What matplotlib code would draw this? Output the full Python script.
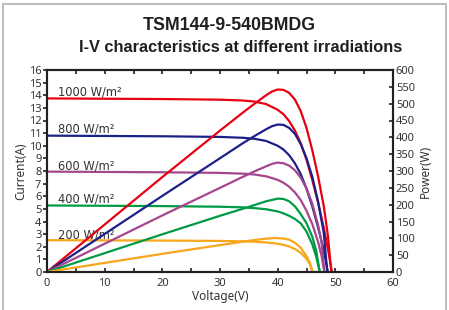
import matplotlib
matplotlib.use("Agg")
import matplotlib.pyplot as plt
from matplotlib.patches import Rectangle
from matplotlib.ticker import MultipleLocator

# ---------------- data ----------------
irradiance_labels = ["1000 W/m²", "800 W/m²", "600 W/m²", "400 W/m²", "200 W/m²"]
colors = ["#e60012", "#1d2088", "#a5478f", "#009a44", "#f8a61b"]

# I-V curves (voltage V, current A)
iv_v_1000 = [0, 20, 30, 34, 36, 38, 40, 41, 42, 43, 44, 45, 46, 47, 48, 48.8, 49.4]
iv_i_1000 = [13.75, 13.70, 13.65, 13.58, 13.50, 13.30, 12.85, 12.50, 11.95, 11.20, 10.20, 8.90, 7.30, 5.50, 3.50, 1.60, 0]
iv_v_800 = [0, 20, 30, 34, 36, 38, 40, 41, 42, 43, 44, 45, 46, 47, 48, 48.7]
iv_i_800 = [10.80, 10.75, 10.70, 10.63, 10.55, 10.38, 10.00, 9.70, 9.25, 8.60, 7.75, 6.60, 5.20, 3.55, 1.70, 0]
iv_v_600 = [0, 20, 30, 34, 36, 38, 40, 41, 42, 43, 44, 45, 46, 47, 47.6, 48.1]
iv_i_600 = [7.95, 7.90, 7.85, 7.79, 7.72, 7.58, 7.30, 7.07, 6.75, 6.30, 5.70, 4.85, 3.80, 2.40, 1.30, 0]
iv_v_400 = [0, 20, 30, 34, 36, 38, 40, 41, 42, 43, 44, 45, 46, 46.7, 47.3]
iv_i_400 = [5.27, 5.22, 5.17, 5.12, 5.06, 4.97, 4.80, 4.65, 4.45, 4.20, 3.85, 3.20, 2.20, 1.20, 0]
iv_v_200 = [0, 20, 30, 34, 36, 38, 40, 41, 42, 43, 44, 45, 45.6, 46.1]
iv_i_200 = [2.52, 2.49, 2.46, 2.43, 2.40, 2.34, 2.24, 2.15, 2.02, 1.82, 1.52, 1.05, 0.60, 0]

# P-V curves (voltage V, power W)
pv_v_1000 = [0, 10, 20, 30, 34, 36, 38, 39, 40, 41, 42, 43, 44, 45, 46, 47, 48, 48.7, 49.3]
pv_p_1000 = [0, 141, 282, 420, 474, 500, 525, 536, 542, 541, 532, 512, 478, 428, 362, 285, 195, 110, 0]
pv_v_800 = [0, 10, 20, 30, 34, 36, 38, 39, 40, 41, 42, 43, 44, 45, 46, 47, 48, 48.6]
pv_p_800 = [0, 113, 226, 338, 383, 404, 424, 433, 438, 437, 428, 410, 380, 338, 283, 210, 115, 0]
pv_v_600 = [0, 10, 20, 30, 34, 36, 38, 39, 40, 41, 42, 43, 44, 45, 46, 47, 47.6, 48.1]
pv_p_600 = [0, 84, 168, 250, 283, 299, 314, 321, 325, 323, 316, 302, 280, 248, 203, 140, 90, 0]
pv_v_400 = [0, 10, 20, 30, 34, 36, 38, 40, 41, 42, 43, 44, 45, 46, 46.7, 47.3]
pv_p_400 = [0, 56, 112, 167, 188, 199, 210, 218, 217, 210, 195, 172, 145, 105, 62, 0]
pv_v_200 = [0, 10, 20, 30, 34, 36, 38, 39.5, 41, 42, 43, 44, 45, 45.6, 46]
pv_p_200 = [0, 27, 54, 80, 90, 95, 99, 101, 99.5, 96, 87, 72, 47, 27, 0]

label_pos_v = [1.9, 1.9, 1.9, 1.9, 1.9]
label_pos_i = [14.25, 11.3, 8.4, 5.8, 2.9]

title1 = "TSM144-9-540BMDG"
title2 = "I-V characteristics at different irradiations"

# ---------------- figure ----------------
fig = plt.figure(figsize=(4.49, 3.10), dpi=100)
ax = fig.add_axes([47/449, 1-272/310, (393-47)/449, (272-70)/310])
ax2 = ax.twinx()

iv_sets = [(iv_v_1000, iv_i_1000), (iv_v_800, iv_i_800), (iv_v_600, iv_i_600),
           (iv_v_400, iv_i_400), (iv_v_200, iv_i_200)]
pv_sets = [(pv_v_1000, pv_p_1000), (pv_v_800, pv_p_800), (pv_v_600, pv_p_600),
           (pv_v_400, pv_p_400), (pv_v_200, pv_p_200)]

lw = 1.6
for (v, i), c in zip(iv_sets, colors):
    ax.plot(v, i, color=c, lw=lw, solid_capstyle="round", solid_joinstyle="round")
for (v, p), c in zip(pv_sets, colors):
    ax2.plot(v, p, color=c, lw=lw, solid_capstyle="round", solid_joinstyle="round")

tick_font = "Noto Sans"
for lab, x, y in zip(irradiance_labels, label_pos_v, label_pos_i):
    ax.text(x, y, lab, fontsize=8.3, color="#333333", family="DejaVu Sans",
            ha="left", va="center", zorder=5)

ax.set_xlim(0, 60)
ax.set_ylim(0, 16)
ax2.set_ylim(0, 600)

ax.xaxis.set_major_locator(MultipleLocator(10))
ax.xaxis.set_minor_locator(MultipleLocator(5))
ax.yaxis.set_major_locator(MultipleLocator(1))
ax2.yaxis.set_major_locator(MultipleLocator(50))

spine_c = "#231f20"
for a in (ax, ax2):
    for s in a.spines.values():
        s.set_linewidth(1.5)
        s.set_color(spine_c)

ax.tick_params(axis="x", which="both", direction="in", length=3, width=1.2,
               top=True, color=spine_c, labelsize=8, pad=4, labelcolor="#333333")
ax.tick_params(axis="y", which="major", direction="out", length=3, width=1.2,
               color=spine_c, labelsize=8, pad=1, labelcolor="#333333")
ax2.tick_params(axis="y", which="major", direction="in", length=3, width=1.2,
                color=spine_c, labelsize=8, pad=2, labelcolor="#333333")
for t in ax.get_xticklabels() + ax.get_yticklabels() + ax2.get_yticklabels():
    t.set_family(tick_font)

ax.set_xlabel("Voltage(V)", fontsize=8.5, family=tick_font, color="#333333", labelpad=1)
ax.set_ylabel("Current(A)", fontsize=8.5, family=tick_font, color="#333333", labelpad=1)
ax2.set_ylabel("Power(W)", fontsize=8.5, family=tick_font, color="#333333", labelpad=3)

fig.text(229/449, 1-25/310, title1, fontsize=12.8, fontweight="bold",
         family="Liberation Sans", color="#231f20",
         ha="center", va="center")
fig.text(241/449, 1-47/310, title2, fontsize=11.8, fontweight="bold",
         family="Liberation Sans", color="#231f20",
         ha="center", va="center")

fig.patches.append(Rectangle((3/449, -0.05), (446-3)/449, 1.05 - 4/310,
                             transform=fig.transFigure, fill=False,
                             edgecolor="#bdbdbd", lw=1.5, clip_on=False))

fig.savefig("out.png", dpi=100)
